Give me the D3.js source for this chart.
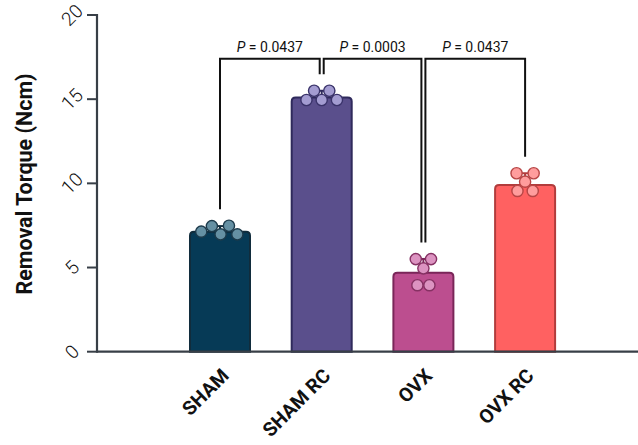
<!DOCTYPE html>
<html>
<head>
<meta charset="utf-8">
<script src="https://cdn.jsdelivr.net/npm/d3@7"></script>
<style>
  html, body { margin: 0; padding: 0; background: #fff; }
  svg { display: block; }
</style>
</head>
<body>
<svg id="chart" width="638" height="445"></svg>
<script>
// ---- data ----
const categories = ["SHAM", "SHAM RC", "OVX", "OVX RC"];
const barMeans = [7.13, 15.1, 4.69, 9.9];
const barErrors = [0.33, 0.4, 0.82, 0.7];
const pointsSHAM = [7.46, 7.13, 7.48, 6.97, 6.97];
const pointsSHAMRC = [15.5, 15.5, 14.95, 14.95, 14.95];
const pointsOVX = [5.5, 5.5, 4.95, 3.95, 3.95];
const pointsOVXRC = [10.6, 10.6, 10.1, 9.55, 9.55];
const yTicks = [0, 5, 10, 15, 20];
const comparisons = [
  { a: "SHAM", b: "SHAM RC", p: "0.0437" },
  { a: "SHAM RC", b: "OVX", p: "0.0003" },
  { a: "OVX", b: "OVX RC", p: "0.0437" }
];
const bracketLevel = 17.4;

// ---- styles ----
const fills = ["#063a56", "#5a4f8c", "#bc4e8f", "#ff6161"];
const strokes = ["#112c3c", "#2f2a5c", "#7a2659", "#b23c3c"];
const pointFills = ["#6590a3", "#a39cd1", "#dc93c1", "#ff9d9d"];
const pointStrokes = ["#1c3a4b", "#3a336a", "#863163", "#b84646"];
const allPoints = [pointsSHAM, pointsSHAMRC, pointsOVX, pointsOVXRC];

const svg = d3.select("#chart");
const axisColor = "#383f47";

const y = d3.scaleLinear().domain([0, 20]).range([351.7, 15]);
const x = d3.scaleBand().domain(categories).range([169.15, 575.95])
  .paddingInner(0.41).paddingOuter(0.205);
const bw = x.bandwidth();
const cx = c => x(c) + bw / 2;
const r = 5.6;

// bars with rounded top corners
const rad = 4;
categories.forEach((c, i) => {
  const x0 = x(c), x1 = x(c) + bw, yt = y(barMeans[i]), yb = y(0);
  const p = `M${x0},${yb} L${x0},${yt + rad} Q${x0},${yt} ${x0 + rad},${yt} L${x1 - rad},${yt} Q${x1},${yt} ${x1},${yt + rad} L${x1},${yb}`;
  svg.append("path").attr("d", p + " Z")
    .attr("fill", fills[i]).attr("stroke", strokes[i]).attr("stroke-width", 2);
});

// error bars (upper half)
categories.forEach((c, i) => {
  const g = svg.append("g").attr("stroke", strokes[i]).attr("stroke-width", 2);
  const yt = y(barMeans[i]), ye = y(barMeans[i] + barErrors[i]);
  g.append("line").attr("x1", cx(c)).attr("x2", cx(c)).attr("y1", yt).attr("y2", ye);
  g.append("line").attr("x1", cx(c) - 10).attr("x2", cx(c) + 10).attr("y1", ye).attr("y2", ye);
});

// points (beeswarm via force layout with fixed y)
categories.forEach((c, i) => {
  const nodes = allPoints[i].map((v, k) => ({ v, fy: y(v), x: cx(c) + (k - 2) * 0.7, y: y(v) }));
  const sim = d3.forceSimulation(nodes)
    .force("x", d3.forceX(cx(c)).strength(0.08))
    .force("collide", d3.forceCollide(r + 0.4).iterations(4))
    .stop();
  for (let t = 0; t < 300; t++) sim.tick();
  svg.append("g").selectAll("circle").data(nodes).join("circle")
    .attr("cx", d => d.x).attr("cy", d => y(d.v)).attr("r", r)
    .attr("fill", pointFills[i]).attr("stroke", pointStrokes[i]).attr("stroke-width", 1.4);
});

// axes
svg.append("line").attr("x1", 97).attr("x2", 638).attr("y1", y(0)).attr("y2", y(0))
  .attr("stroke", axisColor).attr("stroke-width", 2.2);
svg.append("line").attr("x1", 97).attr("x2", 97).attr("y1", y(20) - 1).attr("y2", y(0) + 1)
  .attr("stroke", axisColor).attr("stroke-width", 2.2);
const yt = svg.append("g");
yTicks.forEach(t => {
  yt.append("line").attr("x1", 87).attr("x2", 97).attr("y1", y(t)).attr("y2", y(t))
    .attr("stroke", axisColor).attr("stroke-width", 2);
  yt.append("text").attr("transform", `translate(72,${y(t)}) rotate(-45)`)
    .attr("text-anchor", "middle").attr("dy", "0.35em")
    .attr("font-family", "Roboto").attr("font-weight", 300).attr("font-size", 19)
    .attr("fill", "#111").text(t);
});

svg.append("text").attr("transform", "translate(32,184) rotate(-90)")
  .attr("text-anchor", "middle")
  .attr("font-family", "Roboto").attr("font-weight", 700).attr("font-size", 21.5)
  .attr("fill", "#111").text("Removal Torque (Ncm)");

categories.forEach(c => {
  svg.append("text").attr("transform", `translate(${cx(c) + 10},377) rotate(-45)`)
    .attr("text-anchor", "end")
    .attr("font-family", "Roboto").attr("font-weight", 700).attr("font-size", 19.5)
    .attr("fill", "#111").text(c);
});

// significance brackets
const centers = comparisons.flatMap(d => [d.a, d.b]);
const shared = c => centers.filter(z => z === c).length > 1;
const yb = y(bracketLevel);
comparisons.forEach(d => {
  const ia = categories.indexOf(d.a), ib = categories.indexOf(d.b);
  const xa = cx(d.a) + (shared(d.a) ? 2 : 0);
  const xb = cx(d.b) - (shared(d.b) ? 2 : 0);
  const la = y(d3.max(allPoints[ia])) - r - 11;
  const lb = y(d3.max(allPoints[ib])) - r - 11;
  svg.append("path")
    .attr("d", `M${xa},${la} L${xa},${yb} L${xb},${yb} L${xb},${lb}`)
    .attr("fill", "none").attr("stroke", "#111").attr("stroke-width", 2);
  const t = svg.append("text").attr("x", (xa + xb) / 2).attr("y", yb - 7)
    .attr("text-anchor", "middle").attr("font-family", "Roboto").attr("font-size", 14)
    .attr("fill", "#111");
  t.append("tspan").attr("font-style", "italic").text("P");
  t.append("tspan").text(" = " + d.p);
});
</script>
</body>
</html>
